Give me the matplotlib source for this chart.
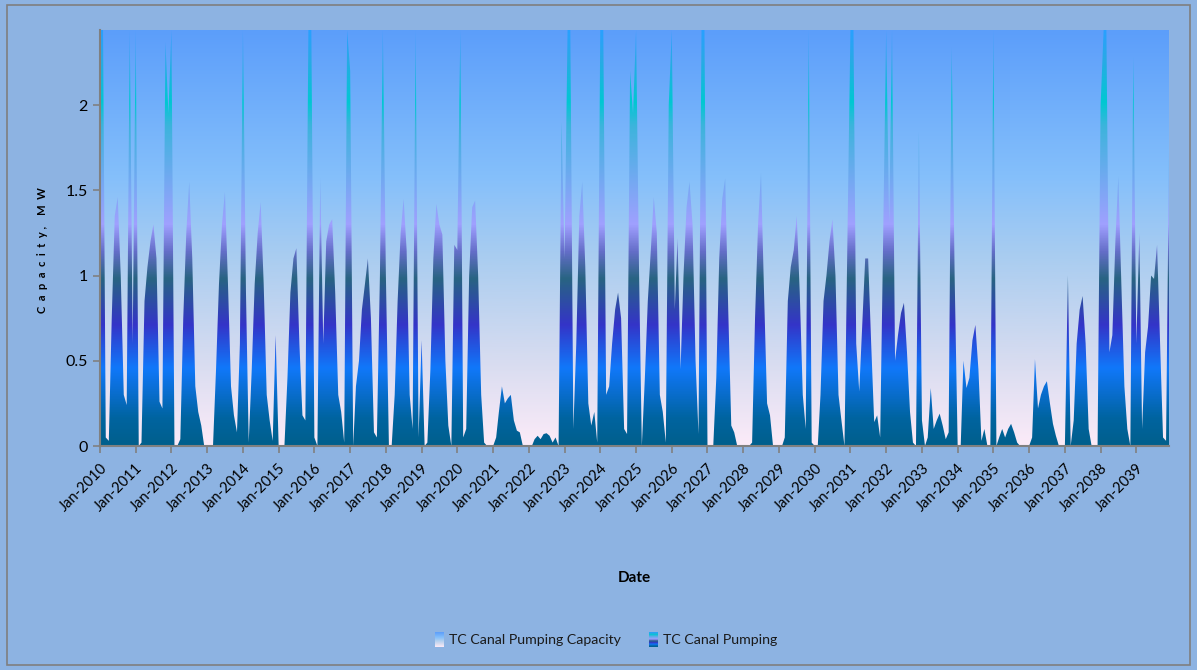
import numpy as np
import pandas as pd
import matplotlib
matplotlib.use('Agg')
import matplotlib.pyplot as plt
import matplotlib.dates as mdates
from matplotlib.colors import LinearSegmentedColormap
from matplotlib.patches import PathPatch, Rectangle
from matplotlib.ticker import FuncFormatter, MultipleLocator

plt.rcParams['font.family'] = ['Lato', 'DejaVu Sans']

# monthly values, MW
capacity_mw = 2.44

pumping_2010s = [2.44, 2.44, 0.05, 0.03, 0.75, 1.35, 1.46, 1.0, 0.3, 0.24,
                 2.44, 0.6, 2.44, 0.0, 0.02, 0.85, 1.05, 1.2, 1.3, 1.1,
                 0.26, 0.22, 2.37, 1.95, 2.44, 0.0, 0.0, 0.04, 0.75, 1.25,
                 1.55, 1.1, 0.35, 0.2, 0.12, 0.0, 0.0, 0.0, 0.0, 0.45,
                 0.95, 1.3, 1.49, 0.95, 0.35, 0.18, 0.08, 0.6, 2.44, 0.9,
                 0.02, 0.45, 0.95, 1.25, 1.43, 0.95, 0.3, 0.15, 0.03, 0.65,
                 0.0, 0.0, 0.0, 0.4, 0.9, 1.1, 1.16, 0.6, 0.18, 0.15,
                 2.44, 2.44, 0.05, 0.0, 1.57, 0.6, 1.2, 1.3, 1.33, 0.9,
                 0.3, 0.2, 0.02, 2.44, 2.2, 0.0, 0.35, 0.5, 0.8, 0.95,
                 1.1, 0.75, 0.08, 0.05, 1.0, 2.44, 1.0, 0.0, 0.0, 0.3,
                 0.85, 1.25, 1.45, 1.15, 0.3, 0.1, 2.44, 0.05, 0.62, 0.0,
                 0.02, 0.45, 1.1, 1.42, 1.3, 1.24, 0.5, 0.12, 0.0, 1.18]

pumping_2020s = [1.15, 2.44, 0.05, 0.1, 1.0, 1.4, 1.44, 1.0, 0.3, 0.02,
                 0.0, 0.0, 0.0, 0.05, 0.2, 0.35, 0.25, 0.28, 0.3, 0.15,
                 0.09, 0.08, 0.0, 0.0, 0.0, 0.0, 0.04, 0.06, 0.04, 0.07,
                 0.075, 0.06, 0.02, 0.05, 0.0, 1.9, 1.1, 2.44, 2.44, 0.1,
                 0.6, 1.35, 1.55, 1.05, 0.25, 0.12, 0.2, 0.02, 2.44, 2.44,
                 0.3, 0.35, 0.6, 0.8, 0.9, 0.75, 0.1, 0.07, 2.2, 1.95,
                 2.44, 1.0, 0.0, 0.4, 0.85, 1.15, 1.46, 1.25, 0.3, 0.2,
                 0.02, 2.0, 2.44, 0.8, 1.22, 0.45, 1.0, 1.4, 1.55, 1.3,
                 0.5, 0.07, 2.44, 2.44, 0.0, 0.0, 0.0, 0.4, 1.1, 1.45,
                 1.57, 0.8, 0.12, 0.08, 0.0, 0.0, 0.0, 0.0, 0.0, 0.02,
                 0.75, 1.3, 1.6, 0.9, 0.25, 0.18, 0.0, 0.0, 0.0, 0.0,
                 0.05, 0.85, 1.05, 1.15, 1.35, 0.9, 0.3, 0.1, 2.44, 0.02]

pumping_2030s = [0.0, 0.0, 0.3, 0.85, 1.0, 1.2, 1.33, 1.0, 0.3, 0.15,
                 0.0, 1.2, 2.44, 2.44, 0.6, 0.32, 0.7, 1.1, 1.1, 0.6,
                 0.14, 0.18, 0.05, 1.2, 2.44, 1.3, 2.44, 0.5, 0.65, 0.78,
                 0.84, 0.55, 0.2, 0.02, 0.0, 1.84, 0.15, 0.0, 0.05, 0.34,
                 0.1, 0.15, 0.19, 0.12, 0.04, 0.08, 2.34, 1.0, 0.0, 0.0,
                 0.5, 0.34, 0.4, 0.62, 0.71, 0.45, 0.03, 0.1, 0.0, 0.0,
                 2.44, 0.0, 0.05, 0.1, 0.05, 0.1, 0.13, 0.08, 0.02, 0.0,
                 0.0, 0.0, 0.0, 0.05, 0.51, 0.22, 0.3, 0.35, 0.38, 0.25,
                 0.13, 0.06, 0.0, 0.0, 0.0, 1.0, 0.0, 0.15, 0.6, 0.8,
                 0.88, 0.6, 0.1, 0.0, 0.0, 0.0, 2.0, 2.44, 2.44, 0.55,
                 0.65, 1.2, 1.58, 0.95, 0.35, 0.1, 0.0, 2.28, 0.6, 1.25,
                 0.1, 0.55, 0.7, 1.0, 0.98, 1.18, 0.6, 0.05, 0.03, 1.72]

dates = pd.date_range('2010-01-01', periods=360, freq='MS')
pumping = np.array(pumping_2010s + pumping_2020s + pumping_2030s)
capacity = np.full(len(dates), capacity_mw)

# gradient colours by height (MW)
cap_stops = [(0.0, '#FCEBF8'), (0.5, '#D7DCF0'), (1.1, '#AACDF0'),
             (1.59, '#84BFFB'), (2.44, '#5C9EFA')]
pump_stops = [(0.0, '#005F8C'), (0.16, '#0064A0'), (0.32, '#0A6ED2'),
              (0.455, '#1078FA'), (0.71, '#3434C8'), (0.98, '#286482'),
              (1.14, '#646EC8'), (1.30, '#A0A0FF'), (1.59, '#6EAAF0'),
              (1.88, '#3CB4DC'), (2.02, '#00C8D2'), (2.27, '#28AAE6'),
              (2.44, '#28A0FF')]
cap_cmap = LinearSegmentedColormap.from_list(
    'cap', [(v / capacity_mw, c) for v, c in cap_stops])
pump_cmap = LinearSegmentedColormap.from_list(
    'pump', [(v / capacity_mw, c) for v, c in pump_stops])


def gradient_area(ax, x, y, cmap, ymax, zorder):
    coll = ax.fill_between(x, 0, y, facecolor='none', edgecolor='none')
    clip = PathPatch(coll.get_paths()[0], transform=ax.transData,
                     facecolor='none', edgecolor='none')
    ax.add_patch(clip)
    xn = mdates.date2num(x)
    grad = np.linspace(0, 1, 512).reshape(-1, 1)
    im = ax.imshow(grad, cmap=cmap, origin='lower', aspect='auto',
                   extent=[xn[0], xn[-1], 0, ymax], zorder=zorder)
    im.set_clip_path(clip)


fig = plt.figure(figsize=(11.97, 6.70), dpi=100, facecolor='#8DB3E2')
ax = fig.add_axes([100 / 1197, 1 - 446 / 670, 1069 / 1197, 416 / 670])
ax.set_facecolor('none')

gradient_area(ax, dates, capacity, cap_cmap, capacity_mw, 1)
gradient_area(ax, dates, pumping, pump_cmap, capacity_mw, 2)

xn = mdates.date2num(dates)
ax.set_xlim(xn[0], xn[-1])
ax.set_ylim(0, capacity_mw)

ax.xaxis.set_major_locator(mdates.YearLocator())
ax.xaxis.set_major_formatter(mdates.DateFormatter('%b-%Y'))
ax.yaxis.set_major_locator(MultipleLocator(0.5))
ax.yaxis.set_major_formatter(FuncFormatter(lambda v, p: f'{v:g}'))
ax.tick_params(direction='out', length=5, width=1.2, color='#808080',
               labelcolor='black')
ax.tick_params(axis='y', labelsize=11.5, pad=4)
ax.tick_params(axis='x', labelsize=10.5, pad=6)
plt.setp(ax.get_xticklabels(), rotation=45, ha='right', rotation_mode='anchor')

for s in ['top', 'right']:
    ax.spines[s].set_visible(False)
for s in ['left', 'bottom']:
    ax.spines[s].set_color('#808080')
    ax.spines[s].set_linewidth(1.5)
    ax.spines[s].set_zorder(5)

fig.text(42 / 1197, 1 - 250 / 670, 'C  a  p  a  c  i  t  y ,    M  W',
         rotation=90, fontsize=8, fontweight='bold', ha='center', va='center')
fig.text(634 / 1197, 1 - 578 / 670, 'Date', fontsize=11, fontweight='bold',
         ha='center', va='center')

# legend
legend_items = [('TC Canal Pumping Capacity', cap_cmap, 435),
                ('TC Canal Pumping', pump_cmap, 649)]
for label, cmap, x0 in legend_items:
    sw = fig.add_axes([x0 / 1197, 1 - 647 / 670, 9 / 1197, 15 / 670])
    sw.imshow(np.linspace(0, 1, 64).reshape(-1, 1), cmap=cmap,
              origin='lower', aspect='auto')
    sw.axis('off')
    fig.text((x0 + 14) / 1197, 1 - 640 / 670, label, fontsize=10.2,
             ha='left', va='center', color='#1A1A1A')

fig.patches.append(Rectangle((7 / 1197, 5 / 670), 1183 / 1197, 660 / 670,
                             transform=fig.transFigure, fill=False,
                             edgecolor='#7F7F7F', linewidth=1.2))

fig.savefig('out.png', dpi=100, facecolor=fig.get_facecolor())
